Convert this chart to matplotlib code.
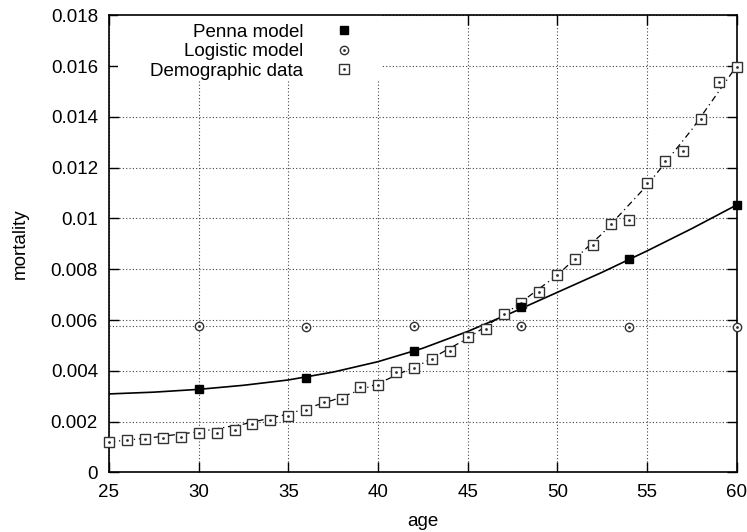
import matplotlib
matplotlib.use("Agg")
import matplotlib.pyplot as plt
from matplotlib.patches import Rectangle
from matplotlib.legend_handler import HandlerTuple

plt.rcParams['font.family'] = ['Liberation Sans', 'DejaVu Sans']

# ---- data ----
demo_age = list(range(25, 61))
demo_mort = [0.00120, 0.00129, 0.00130, 0.00137, 0.00138, 0.00156, 0.00156, 0.00166,
             0.00190, 0.00206, 0.00223, 0.00246, 0.00278, 0.00289, 0.00336, 0.00346,
             0.00396, 0.00412, 0.00445, 0.00479, 0.00534, 0.00566, 0.00625, 0.00668,
             0.00711, 0.00777, 0.00841, 0.00895, 0.00977, 0.00995, 0.01141, 0.01227,
             0.01265, 0.01391, 0.01538, 0.01595]

model_age = [30, 36, 42, 48, 54, 60]
penna_mort = [0.00327, 0.00373, 0.00478, 0.00650, 0.00839, 0.01053]
logistic_mort = [0.00576, 0.00574, 0.00578, 0.00576, 0.00574, 0.00572]

curve_age = [25, 27.5, 30, 32.5, 35, 37.5, 40, 42.5, 45, 47.5, 50, 52.5, 55, 57.5, 60]
penna_curve = [0.00309, 0.00316, 0.00327, 0.00343, 0.00364, 0.00395, 0.00436, 0.00489,
               0.00555, 0.00630, 0.00709, 0.00788, 0.00872, 0.00960, 0.01053]
demo_curve = [0.00120, 0.00138, 0.00160, 0.00190, 0.00230, 0.00285, 0.00350, 0.00430,
              0.00528, 0.00645, 0.00777, 0.00940, 0.01130, 0.01350, 0.01600]
logistic_age = [25, 60]
logistic_curve = [0.00575, 0.00575]

x_ticks = [25, 30, 35, 40, 45, 50, 55, 60]
y_ticks = [0, 0.002, 0.004, 0.006, 0.008, 0.010, 0.012, 0.014, 0.016, 0.018]
y_ticklabels = ['0', '0.002', '0.004', '0.006', '0.008', '0.01', '0.012', '0.014', '0.016', '0.018']

# ---- figure ----
fig = plt.figure(figsize=(7.47, 5.32), dpi=100)
ax = fig.add_axes([0.1459, 0.112, 0.8403, 0.8594])

fs = 13.5
grid_style = dict(color='#444444', linestyle=(0, (1, 2)), linewidth=0.8)

ax.set_xlim(25, 60)
ax.set_ylim(0, 0.018)
ax.set_xticks(x_ticks)
ax.set_yticks(y_ticks)
ax.set_yticklabels(y_ticklabels)
ax.set_axisbelow(True)
ax.grid(True, **grid_style)
ax.tick_params(direction='in', length=7, width=1, top=True, right=True,
               labelsize=fs, pad=8)
for s in ax.spines.values():
    s.set_linewidth(1.2)

# white area behind the key (covers grid lines like the original)
ax.add_patch(Rectangle((0.0143, 0.858), 0.419, 0.142, transform=ax.transAxes,
                       facecolor='white', edgecolor='none', zorder=1))

# fitted curves
ax.plot(curve_age, penna_curve, color='black', linewidth=1.2, zorder=2)
ax.plot(curve_age, demo_curve, color='black', linewidth=0.9,
        linestyle=(0, (5, 3, 1, 3)), zorder=2)
ax.plot(logistic_age, logistic_curve, **grid_style, zorder=2)

# points
p_penna, = ax.plot(model_age, penna_mort, linestyle='none', marker='s',
                   markersize=5.5, color='black', zorder=4, clip_on=False)
p_log, = ax.plot(model_age, logistic_mort, linestyle='none', marker='o',
                 markersize=6, markerfacecolor='white', markeredgecolor='#333333',
                 markeredgewidth=1.0, zorder=4, clip_on=False)
p_log_dot, = ax.plot(model_age, logistic_mort, linestyle='none', marker='.',
                     markersize=2, color='#333333', zorder=5, clip_on=False)
p_demo, = ax.plot(demo_age, demo_mort, linestyle='none', marker='s',
                  markersize=6.5, markerfacecolor='white', markeredgecolor='#333333',
                  markeredgewidth=1.0, zorder=3, clip_on=False)
p_demo_dot, = ax.plot(demo_age, demo_mort, linestyle='none', marker='.',
                      markersize=2, color='#333333', zorder=3.5, clip_on=False)

leg = ax.legend([p_penna, (p_log, p_log_dot), (p_demo, p_demo_dot)],
                ['Penna model', 'Logistic model', 'Demographic data'],
                handler_map={tuple: HandlerTuple(ndivide=1)},
                loc='upper right', bbox_to_anchor=(0.4333, 1.0),
                borderaxespad=0, markerfirst=False, frameon=False,
                fontsize=fs, handlelength=3, handletextpad=0.7,
                labelspacing=0.12, borderpad=0.45, numpoints=1)
leg.set_zorder(6)

ax.set_xlabel('age', fontsize=fs, labelpad=9)
ax.set_ylabel('mortality', fontsize=fs, labelpad=16)

fig.savefig('out.png', dpi=100)
